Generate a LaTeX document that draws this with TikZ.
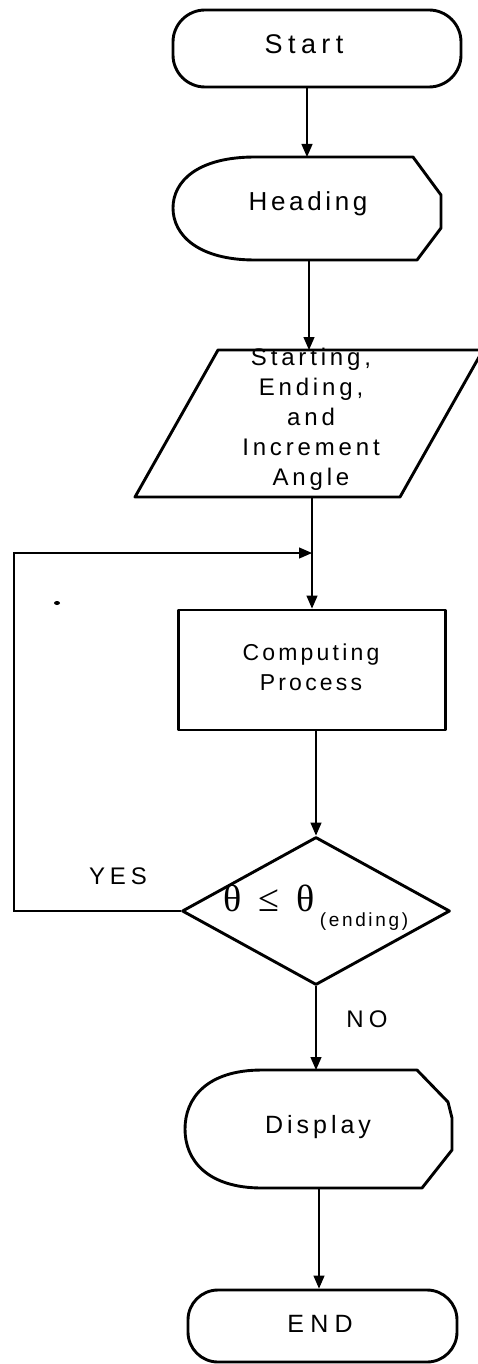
\documentclass[tikz,border=0pt]{standalone}
\usepackage{fontspec}
\setmainfont{Liberation Sans}
\newfontfamily\thetafont{Liberation Serif}
\usetikzlibrary{arrows.meta,shapes.geometric,calc}
\newcommand{\txtsize}[3]{\fontsize{#1}{#2}\selectfont\addfontfeature{LetterSpace=#3}}
\tikzset{
  outline/.style={draw=black, line width=2.9pt, line join=round},
  conn/.style={draw=black, line width=1.3pt},
  arr/.style={conn, -{Triangle[length=13pt,width=11pt]}},
  anchorbox/.style={draw=none, inner sep=0pt, outer sep=0pt, rectangle},
  txt/.style={inner sep=0pt, align=center},
  bigsym/.style={inner sep=0pt, font=\thetafont\fontsize{38}{40}\selectfont}
}
\begin{document}
\begin{tikzpicture}[x=1pt,y=-1pt]
\useasboundingbox (0,0) rectangle (477,1364);
\fill[white] (0,0) rectangle (477,1364);

% Start
\node[outline, rounded corners=32pt, minimum width=288pt, minimum height=77pt, inner sep=0pt] (start) at (317,48.5) {};
\node[txt, font=\txtsize{27}{30}{20}] (startT) at (304,44) {Start};

% Heading (display symbol)
\node[anchorbox, minimum width=268pt, minimum height=103pt] (heading) at (307,208.5) {};
\draw[outline] (413,157) -- (441,195) -- (441,228) -- (417,260) -- (255,260)
  .. controls (198,260) and (173,235) .. (173,208)
  .. controls (173,181) and (198,157) .. (255,157) -- cycle;
\node[txt, font=\txtsize{26}{30}{14}] (headingT) at (308,204) {Heading};

% Input parallelogram
\node[anchorbox, minimum width=265pt, minimum height=147pt] (input) at (309,423.5) {};
\draw[outline] (218,350) -- (483,350) -- (400,497) -- (135,497) -- cycle;
\node[txt, font=\txtsize{24}{30}{16}] (inputT) at (311,419) {Starting,\\Ending,\\and\\Increment\\Angle};

% Computing process
\node[outline, minimum width=267pt, minimum height=120pt, inner sep=0pt] (proc) at (312,670) {};
\node[txt, font=\txtsize{23}{30}{14}] (procT) at (311,667) {Computing\\Process};

% Decision
\node[outline, diamond, minimum width=268pt, minimum height=148pt, inner sep=0pt] (dec) at (316,911) {};
\node[bigsym] (decT) at (269,898) {θ\hspace{17pt}≤\hspace{17pt}θ};
\node[txt, font=\txtsize{19}{22}{14}] (decSub) at (364,922) {(ending)};

% Display
\node[anchorbox, minimum width=267pt, minimum height=118pt] (display) at (319,1129) {};
\draw[outline] (417,1070) -- (448,1102) -- (452,1118) -- (452,1150) -- (422,1188) -- (262,1188)
  .. controls (207,1188) and (185,1160) .. (185,1129)
  .. controls (185,1098) and (207,1070) .. (262,1070) -- cycle;
\node[txt, font=\txtsize{25}{30}{16}] (displayT) at (318,1127) {Display};

% END
\node[outline, rounded corners=30pt, minimum width=269pt, minimum height=72pt, inner sep=0pt] (end) at (322.5,1326) {};
\node[txt, font=\txtsize{25}{30}{25}] (endT) at (320,1324) {END};

% labels
\node[txt, font=\txtsize{24}{30}{20}] (yes) at (118,876) {YES};
\node[txt, font=\txtsize{24}{30}{22}] (no) at (367,1019) {NO};

% connectors
\coordinate (join) at (312,553);
\coordinate (loopcorner) at (14,553);
\draw[arr] (start.south -| heading.north) -- (heading.north);
\draw[arr] (heading.south -| input.north) -- (input.north);
\draw[arr] (input.south -| proc.north) -- (proc.north);
\draw[arr] (proc.south -| dec.north) -- (dec.north);
\draw[arr] (dec.west) -| (loopcorner) -- (join);
\draw[arr] (dec.south) -- (dec.south |- display.north);
\draw[arr] (display.south) -- (display.south |- end.north);

% scan speck
\fill (57,603) ellipse (3pt and 2pt);
\end{tikzpicture}
\end{document}
